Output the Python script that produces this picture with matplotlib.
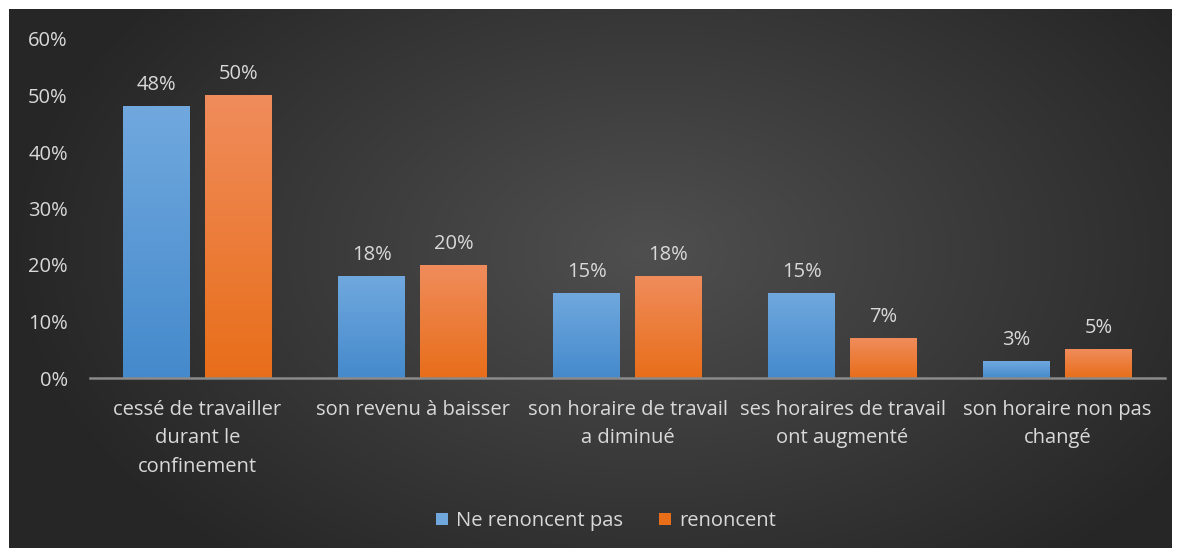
import numpy as np
import matplotlib.pyplot as plt
from matplotlib.patches import Patch

categories = ["cessé de travailler\ndurant le\nconfinement", "son revenu à baisser",
              "son horaire de travail\na diminué", "ses horaires de travail\nont augmenté",
              "son horaire non pas\nchangé"]
ne_renoncent_pas = [48, 18, 15, 15, 3]
renoncent = [50, 20, 18, 7, 5]
series_names = ["Ne renoncent pas", "renoncent"]
yticks = [0, 10, 20, 30, 40, 50, 60]

plt.rcParams['font.family'] = ['Open Sans', 'DejaVu Sans']
txt = '#d9d9d9'
fs = 14.5

W, H = 1180, 553
fig = plt.figure(figsize=(W / 100, H / 100), dpi=100, facecolor='white')

# radial dark background
bg = fig.add_axes([9 / W, 5 / H, 1163 / W, 539 / H])
yy, xx = np.mgrid[0:1:300j, 0:1:600j]
r = np.sqrt(((xx - 0.55) / 0.55) ** 2 + ((yy - 0.45) / 0.75) ** 2)
shade = np.clip(0.31 - 0.16 * r, 0.15, 0.31)
bg.imshow(np.dstack([shade] * 3), aspect='auto', extent=[0, 1, 0, 1])
bg.set_axis_off()

ax = fig.add_axes([90 / W, 1 - 378 / H, 1075 / W, (378 - 39) / H])
ax.patch.set_alpha(0)

x = np.arange(len(categories))
bw = 0.31
gap = 0.07


def grad_bar(xc, h, top, bottom):
    t = np.linspace(0, 1, 100)[:, None, None]
    img = np.array(top)[None, None, :] * (1 - t) + np.array(bottom)[None, None, :] * t
    ax.imshow(img, extent=[xc - bw / 2, xc + bw / 2, 0, h], aspect='auto', zorder=2)


blue_top, blue_bot = (0.44, 0.66, 0.87), (0.27, 0.54, 0.80)
or_top, or_bot = (0.94, 0.55, 0.36), (0.91, 0.43, 0.10)

for i in range(len(categories)):
    xb = x[i] - bw / 2 - gap / 2
    xo = x[i] + bw / 2 + gap / 2
    grad_bar(xb, ne_renoncent_pas[i], blue_top, blue_bot)
    grad_bar(xo, renoncent[i], or_top, or_bot)
    ax.text(xb, ne_renoncent_pas[i] + 2.0, f"{ne_renoncent_pas[i]}%", ha='center', va='bottom',
            color=txt, fontsize=fs)
    ax.text(xo, renoncent[i] + 2.0, f"{renoncent[i]}%", ha='center', va='bottom',
            color=txt, fontsize=fs)

ax.set_xlim(-0.5, len(categories) - 0.5)
ax.set_ylim(0, 60)
ax.set_yticks(yticks)
ax.set_yticklabels([f"{v}%" for v in yticks], color=txt, fontsize=fs)
ax.set_xticks(x)
ax.set_xticklabels(categories, color=txt, fontsize=fs, linespacing=1.55, va='top')
ax.tick_params(axis='both', length=0)
ax.tick_params(axis='y', pad=16)
ax.tick_params(axis='x', pad=16)
for s in ['top', 'right', 'left']:
    ax.spines[s].set_visible(False)
ax.spines['bottom'].set_color('#8a8a8a')
ax.spines['bottom'].set_linewidth(1.8)
ax.spines['bottom'].set_zorder(3)

handles = [Patch(facecolor=blue_top, label=series_names[0]),
           Patch(facecolor=or_bot, label=series_names[1])]
fig.legend(handles=handles, loc='center', bbox_to_anchor=(606 / W, 1 - 521 / H), ncol=2,
           frameon=False, fontsize=fs, labelcolor=txt, handlelength=0.6, handleheight=0.6,
           handletextpad=0.4, columnspacing=1.8)

fig.savefig("out.png", dpi=100, facecolor='white')
